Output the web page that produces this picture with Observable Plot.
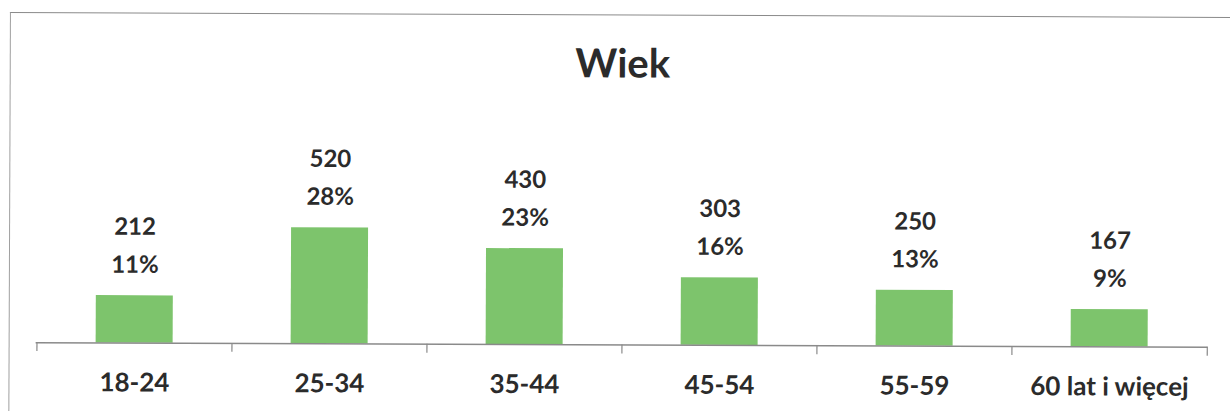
<!DOCTYPE html>
<html>
<head>
<meta charset="utf-8">
<script src="https://cdn.jsdelivr.net/npm/d3@7"></script>
<script src="https://cdn.jsdelivr.net/npm/@observablehq/plot@0.6"></script>
<style>
  html, body { margin: 0; padding: 0; background: #fff; overflow: hidden; }
  #wrap { position: relative; width: 1230px; height: 411px; font-family: Lato, "Open Sans", sans-serif;
          transform: rotate(0.23deg); transform-origin: 0 0; }
  #frame { position: absolute; left: 10px; top: 12px; width: 1240px; height: 420px;
           border-top: 1.5px solid #8a8a8a; border-left: 1.5px solid #a0a0a0; box-sizing: border-box; }
  #title { position: absolute; left: 0; top: 40px; width: 1246px; height: 40px; line-height: 40px;
           text-align: center; font-size: 40px; font-weight: 700; color: #2b2b2b; }
  #chart { position: absolute; left: 0; top: 0; }
</style>
</head>
<body>
<div id="wrap">
  <div id="frame"></div>
  <div id="chart"></div>
  <div id="title">Wiek</div>
</div>
<script>
const categories = ["18-24", "25-34", "35-44", "45-54", "55-59", "60 lat i więcej"];
const counts = [212, 520, 430, 303, 250, 167];
const percents = [11, 28, 23, 16, 13, 9];

const data = categories.map((c, i) => ({category: c, count: counts[i], pct: percents[i]}));

const W = 1230, H = 411;
const mL = 37, mR = 21, mB = 69;
const step = (W - mL - mR) / categories.length;
const textColor = "#2b2b2b";
const axisColor = "#8a8a8a";

const chart = Plot.plot({
  width: W,
  height: H,
  marginLeft: mL,
  marginRight: mR,
  marginBottom: mB,
  marginTop: 0,
  style: {fontFamily: "Lato, 'Open Sans', sans-serif", background: "transparent", overflow: "visible"},
  x: {domain: categories, paddingInner: 0.606, paddingOuter: 0.303, label: null},
  y: {domain: [0, 520], range: [H - mB, 226], axis: null},
  marks: [
    Plot.barY(data, {x: "category", y: "count", fill: "#7dc46c"}),
    Plot.ruleY([0], {stroke: axisColor, strokeWidth: 1.5}),
    Plot.ruleX(categories, {x: d => d, dx: -step / 2, y1: 0, y2: -40, stroke: axisColor, strokeWidth: 1.2}),
    Plot.ruleX(categories.slice(-1), {x: d => d, dx: step / 2, y1: 0, y2: -40, stroke: axisColor, strokeWidth: 1.2}),
    Plot.text(data, {
      x: "category", y: "count",
      text: d => `${d.count}\n${d.pct}%`,
      lineAnchor: "bottom", lineHeight: 1.58, dy: -23,
      fontSize: 24, fontWeight: 700, fill: textColor
    }),
    Plot.axisX({tickSize: 0, tickPadding: 30, fontSize: 26, fontWeight: 700, color: textColor, label: null})
  ]
});
document.getElementById("chart").appendChild(chart);
</script>
</body>
</html>
